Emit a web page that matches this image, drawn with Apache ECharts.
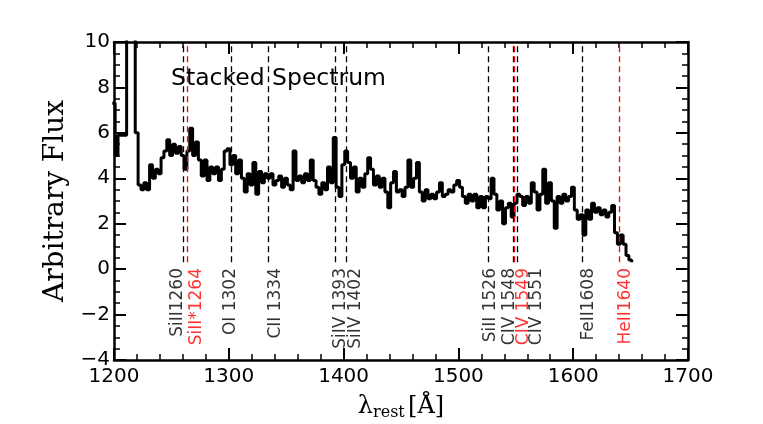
<!DOCTYPE html>
<html>
<head>
<meta charset="utf-8">
<script src="https://cdn.jsdelivr.net/npm/echarts@6/dist/echarts.min.js"></script>
<style>
html, body { margin: 0; padding: 0; background: #fff; }
#chart { width: 763px; height: 424px; }
</style>
</head>
<body>
<div id="chart"></div>
<script>
// stacked spectrum, binned every 2.5 A from 1198.5 A
var waveStart = 1198.5;
var waveStep = 2.5;
var flux = [
	7.3, 5.0, 5.9, 5.9, 5.9, 14, 14, 14, 6.0, 3.7,
	3.5, 3.8, 3.5, 4.6, 4.0, 4.4, 4.2, 4.9, 5.2, 5.7,
	5.0, 5.5, 5.1, 5.4, 5.0, 4.4, 5.2, 6.2, 5.0, 5.6,
	4.8, 4.1, 4.8, 3.9, 4.5, 4.2, 4.5, 3.9, 4.4, 5.2,
	5.3, 4.6, 5.0, 4.2, 4.8, 4.0, 3.4, 4.2, 3.7, 4.7,
	3.3, 4.3, 3.8, 4.2, 4.0, 4.2, 3.7, 3.9, 4.1, 3.6,
	4.0, 3.7, 3.5, 5.2, 3.9, 4.1, 3.8, 4.2, 3.9, 4.8,
	3.9, 3.6, 3.3, 3.8, 3.5, 4.5, 3.8, 5.8, 3.6, 3.2,
	4.6, 5.2, 4.7, 4.0, 4.5, 3.4, 4.0, 3.6, 4.2, 4.9,
	4.4, 3.7, 4.1, 3.6, 4.0, 3.4, 2.7, 3.8, 4.3, 3.4,
	3.5, 3.2, 3.6, 4.8, 3.6, 4.0, 4.7, 3.4, 3.0, 3.5,
	3.1, 3.3, 3.1, 3.4, 3.8, 3.2, 3.3, 3.5, 3.4, 3.7,
	3.9, 3.6, 3.2, 2.9, 3.3, 3.0, 3.3, 2.7, 3.2, 2.7,
	3.2, 3.1, 4.0, 3.3, 2.6, 3.0, 2.0, 2.7, 2.9, 2.3,
	2.9, 3.3, 3.2, 2.8, 3.2, 2.9, 3.8, 3.4, 2.6, 3.3,
	4.4, 2.9, 3.8, 3.0, 1.8, 3.2, 2.9, 3.3, 3.0, 3.2,
	3.6, 2.6, 2.2, 2.4, 1.5, 2.6, 2.2, 2.9, 2.5, 2.7,
	2.4, 2.6, 2.3, 2.5, 2.8, 1.6, 1.1, 1.5, 1.1, 0.6,
	0.4, 0.3
];

// marked lines
var lineWaves = [1260, 1264, 1302, 1334, 1393, 1402, 1526, 1548, 1549, 1551, 1608, 1640];
var lineNames = ['SiII1260', 'SiII*1264', 'OI 1302', 'CII 1334', 'SiIV 1393', 'SiIV 1402',
	'SiII 1526', 'CIV 1548', 'CIV 1549', 'CIV 1551', 'FeII1608', 'HeII1640'];
var redLines = [1264, 1549, 1640];

// label shifts (in A) so the labels sit where they do in the figure
var labelShift = { 1260: -4.5, 1264: 7.5, 1302: -0.5, 1334: 6.5, 1393: 4, 1402: 8.5, 1526: 2, 1548: -3, 1549: 7.5, 1551: 17, 1608: 5.5, 1640: 5.5 };

var chart = echarts.init(document.getElementById('chart'));

var spectrum = flux.map(function (f, i) {
	return [waveStart + i * waveStep, f];
});

function lineColor(w) {
	return redLines.indexOf(w) >= 0 ? '#ff0000' : '#000000';
}

var markData = lineWaves.map(function (w) {
	return [
		{ coord: [w, 0.3], lineStyle: { color: lineColor(w) } },
		{ coord: [w, 10] }
	];
});

var labelData = lineWaves.map(function (w, i) {
	return {
		value: [w + labelShift[w], 0.05],
		name: lineNames[i],
		label: { color: lineColor(w) }
	};
});

var sans = 'DejaVu Sans';
var serif = 'DejaVu Serif';

function axisBase(pos) {
	return {
		type: 'value',
		position: pos,
		axisLine: { onZero: false, lineStyle: { color: '#000', width: 2.5 } },
		axisTick: { inside: true, length: 12, lineStyle: { color: '#000', width: 2 } },
		minorTick: { show: true, length: 6, lineStyle: { color: '#000', width: 1.5 } },
		splitLine: { show: false },
		minorSplitLine: { show: false }
	};
}

var xBottom = Object.assign(axisBase('bottom'), {
	min: 1200, max: 1700, interval: 100,
	axisLabel: {
		fontFamily: sans, fontSize: 20, color: '#000', margin: 7,
		formatter: function (v) { return String(v); }
	},
	name: '{l|λ}{s|rest} {l|[Å]}',
	nameLocation: 'middle',
	nameGap: 33,
	nameMoveOverlap: false,
	nameTextStyle: {
		rich: {
			l: { fontFamily: serif, fontSize: 24, color: '#000' },
			s: { fontFamily: serif, fontSize: 16, color: '#000', padding: [12, 0, 0, 0] }
		}
	}
});
xBottom.minorTick.splitNumber = 5;

var xTop = Object.assign(axisBase('top'), {
	min: 1200, max: 1700, interval: 100,
	axisLabel: { show: false }
});
xTop.minorTick.splitNumber = 5;

var yLeft = Object.assign(axisBase('left'), {
	min: -4, max: 10, interval: 2,
	axisLabel: {
		fontFamily: sans, fontSize: 20, color: '#000', margin: 4,
		formatter: function (v) { return v < 0 ? '\u2212' + (-v) : String(v); }
	},
	name: 'Arbitrary Flux',
	nameLocation: 'middle',
	nameGap: 44,
	nameMoveOverlap: false,
	nameTextStyle: { fontFamily: serif, fontSize: 28, color: '#000' }
});
yLeft.minorTick.splitNumber = 4;

var yRight = Object.assign(axisBase('right'), {
	min: -4, max: 10, interval: 2,
	axisLabel: { show: false }
});
yRight.minorTick.splitNumber = 4;

var option = {
	animation: false,
	backgroundColor: '#fff',
	title: {
		text: 'Stacked Spectrum',
		left: 171,
		top: 67,
		padding: 0,
		textStyle: { fontFamily: sans, fontSize: 23.5, fontWeight: 'normal', color: '#000' }
	},
	grid: { left: 114, right: 75, top: 42, bottom: 64, containLabel: false, outerBoundsMode: 'none' },
	xAxis: [xBottom, xTop],
	yAxis: [yLeft, yRight],
	series: [
		{
			type: 'line',
			data: spectrum,
			step: 'end',
			symbol: 'none',
			clip: true,
			lineStyle: { color: '#000', width: 3 },
			markLine: {
				silent: true,
				symbol: 'none',
				label: { show: false },
				lineStyle: { type: [6, 4], width: 1.3 },
				data: markData
			},
			z: 3
		},
		{
			type: 'scatter',
			data: labelData,
			symbolSize: 0,
			silent: true,
			label: {
				show: true,
				position: 'inside',
				rotate: 90,
				align: 'right',
				verticalAlign: 'middle',
				fontFamily: sans,
				fontSize: 17,
				formatter: function (p) { return p.name; }
			}
		}
	]
};

chart.setOption(option);
</script>
</body>
</html>
